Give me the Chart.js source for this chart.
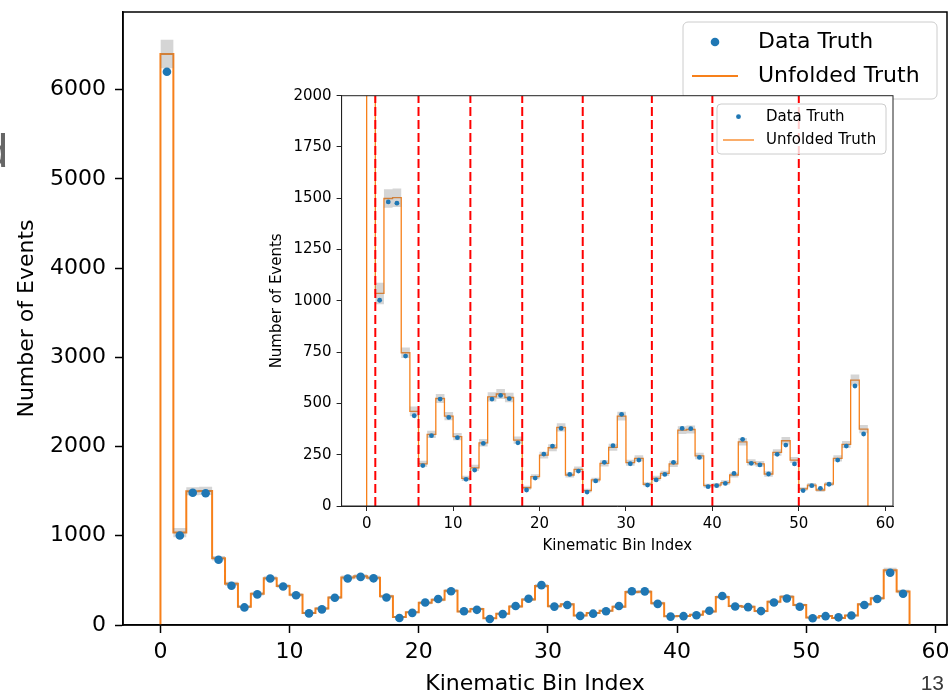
<!DOCTYPE html>
<html>
<head>
<meta charset="utf-8">
<script src="https://cdn.jsdelivr.net/npm/chart.js@4.4.1/dist/chart.umd.min.js"></script>
<style>
    html, body { margin: 0; padding: 0; background: #fff; overflow: hidden; }
    body { width: 949px; height: 694px; position: relative; }
    #mainChart { position: absolute; left: 0; top: 0; }
    #insetChart { position: absolute; left: 250px; top: 60px; }
    .slide-text { position: absolute; font-family: "Liberation Sans", sans-serif; line-height: 1; white-space: nowrap; }
    #sideText { left: -20px; top: 128px; width: 28px; text-align: right; font-size: 46px; color: #666; }
    #pageNum { right: 5px; top: 672px; font-size: 21px; color: #3a3a3a; }
</style>
</head>
<body>
<canvas id="mainChart" width="990" height="720"></canvas>
<canvas id="insetChart" width="680" height="530"></canvas>
<div class="slide-text" id="sideText">d</div>
<div class="slide-text" id="pageNum">13</div>
<script>
// unfolded truth per kinematic bin (58 bins, edges 0..58)
const unfoldedTruth = [
    6400, 1036, 1499, 1503, 747, 461, 205, 349, 524, 438,
    338, 135, 186, 308, 532, 546, 529, 321, 89, 143,
    248, 284, 383, 151, 179, 75, 127, 208, 286, 438,
    211, 232, 106, 135, 159, 205, 370, 373, 244, 99,
    102, 114, 151, 313, 213, 205, 156, 261, 318, 224,
    83, 102, 78, 107, 232, 300, 614, 375
];

// data truth, one point per bin centre
const dataTruth = [
    6200, 1003, 1482, 1476, 731, 440, 197, 343, 521, 432,
    333, 130, 175, 305, 521, 539, 523, 308, 78, 136,
    253, 292, 378, 154, 170, 68, 122, 213, 294, 447,
    206, 224, 102, 127, 154, 213, 378, 377, 237, 94,
    99, 110, 159, 325, 208, 200, 156, 252, 297, 205,
    75, 99, 86, 106, 224, 292, 585, 351
];

// uncertainty on the unfolded result
const unfoldedError = [
    160, 52, 45, 45, 25, 24, 15, 18, 22, 20,
    18, 13, 15, 18, 23, 24, 23, 18, 10, 12,
    16, 17, 20, 12, 14, 9, 11, 15, 17, 21,
    15, 15, 10, 12, 13, 15, 19, 19, 16, 10,
    10, 11, 12, 18, 15, 14, 13, 16, 18, 15,
    9, 10, 9, 10, 15, 17, 27, 20
];

// boundaries between kinematic regions
const regionEdges = [1, 6, 12, 18, 25, 33, 40, 50];

const xTicks = [0, 10, 20, 30, 40, 50, 60];
const mainYTicks = [0, 1000, 2000, 3000, 4000, 5000, 6000];
const insetYTicks = [0, 250, 500, 750, 1000, 1250, 1500, 1750, 2000];

const FONT = "DejaVu Sans";
const nBins = unfoldedTruth.length;

function histStep(values) {
    const pts = [{ x: 0, y: 0 }];
    values.forEach((v, i) => pts.push({ x: i, y: v }));
    pts.push({ x: values.length, y: 0 });
    return pts;
}

function bandEdge(sign) {
    const pts = unfoldedTruth.map((v, i) => ({ x: i, y: v + sign * unfoldedError[i] }));
    pts.push({ x: nBins, y: pts[nBins - 1].y });
    return pts;
}

function binCentres(values) {
    return values.map((v, i) => ({ x: i + 0.5, y: v }));
}

function buildDatasets(s) {
    const sets = [
        {
            label: "Data Truth",
            legendKind: "dot",
            data: binCentres(dataTruth),
            showLine: false,
            pointRadius: s.dot,
            pointBackgroundColor: "#1f77b4",
            pointBorderWidth: 0,
            order: 0
        },
        {
            label: "band-up",
            data: bandEdge(1),
            stepped: "before",
            borderWidth: 0,
            pointRadius: 0,
            fill: "+1",
            backgroundColor: "rgba(128,128,128,0.33)",
            order: 2
        },
        {
            label: "band-down",
            data: bandEdge(-1),
            stepped: "before",
            borderWidth: 0,
            pointRadius: 0,
            fill: false,
            order: 2
        },
        {
            label: "Unfolded Truth",
            legendKind: "line",
            data: histStep(unfoldedTruth),
            stepped: "before",
            borderColor: "#f7801a",
            borderWidth: s.line,
            pointRadius: 0,
            fill: false,
            order: 3
        }
    ];
    if (s.regions) {
        regionEdges.forEach(edge => {
            sets.push({
                label: "region",
                data: [{ x: edge, y: 0 }, { x: edge, y: s.yMax }],
                borderColor: "#ff0000",
                borderWidth: 2,
                borderDash: [9, 4],
                pointRadius: 0,
                fill: false,
                order: 1
            });
        });
    }
    return sets;
}

const framePlugin = {
    id: "frame",
    beforeDraw(chart, args, opts) {
        if (!opts.background) return;
        const a = chart.chartArea;
        chart.ctx.save();
        chart.ctx.fillStyle = opts.background;
        chart.ctx.fillRect(a.left, a.top, a.right - a.left, a.bottom - a.top);
        chart.ctx.restore();
    },
    afterDraw(chart, args, opts) {
        const a = chart.chartArea;
        const ctx = chart.ctx;
        ctx.save();
        ctx.strokeStyle = opts.color;
        ctx.lineWidth = opts.width;
        ctx.strokeRect(a.left, a.top, a.right - a.left, a.bottom - a.top);
        ctx.restore();
    }
};

const boxLegend = {
    id: "boxLegend",
    afterDraw(chart, args, o) {
        const ctx = chart.ctx;
        const items = chart.data.datasets.filter(d => d.legendKind);
        ctx.save();
        ctx.beginPath();
        ctx.roundRect(o.x, o.y, o.w, o.h, o.radius);
        ctx.fillStyle = "rgba(255,255,255,0.8)";
        ctx.fill();
        ctx.strokeStyle = "#cccccc";
        ctx.lineWidth = 1;
        ctx.stroke();
        ctx.font = o.fontSize + "px '" + FONT + "'";
        ctx.textBaseline = "middle";
        items.forEach((d, k) => {
            const y = o.y + o.rowTop + k * o.rowGap;
            if (d.legendKind === "dot") {
                ctx.beginPath();
                ctx.arc(o.handleX + o.handleW / 2, y, d.pointRadius, 0, Math.PI * 2);
                ctx.fillStyle = d.pointBackgroundColor;
                ctx.fill();
            } else {
                ctx.beginPath();
                ctx.moveTo(o.handleX, y);
                ctx.lineTo(o.handleX + o.handleW, y);
                ctx.strokeStyle = d.borderColor;
                ctx.lineWidth = d.borderWidth;
                ctx.stroke();
            }
            ctx.fillStyle = "#000";
            ctx.fillText(d.label, o.textX, y);
        });
        ctx.restore();
    }
};

function axisOptions(s, isX) {
    const ticksList = isX ? xTicks : s.yTicks;
    return {
        type: "linear",
        min: isX ? -2.9 : 0,
        max: isX ? 60.9 : s.yMax,
        afterBuildTicks: scale => { scale.ticks = ticksList.map(v => ({ value: v })); },
        afterFit: scale => {
            // the frame is placed by hand, so drop the label overhang padding
            scale.paddingTop = 0;
            scale.paddingBottom = 0;
            scale.paddingLeft = 0;
            scale.paddingRight = 0;
            if (isX) scale.height = s.xAxisHeight; else scale.width = s.yAxisWidth;
        },
        ticks: {
            font: { family: FONT, size: s.font },
            color: "#000",
            padding: isX ? s.xPad : s.yPad,
            maxRotation: 0,
            autoSkip: false,
            callback: v => String(v)
        },
        grid: {
            display: true,
            drawOnChartArea: false,
            drawTicks: true,
            tickLength: s.tick,
            tickWidth: s.frame,
            tickColor: s.frameColor
        },
        border: { display: true, color: s.frameColor, width: s.frame },
        title: {
            display: true,
            text: isX ? "Kinematic Bin Index" : "Number of Events",
            font: { family: FONT, size: s.font },
            color: "#000",
            padding: isX ? { top: 0, bottom: s.xTitlePad } : { top: s.yTitlePad, bottom: 0 }
        }
    };
}

function makeChart(canvasId, s) {
    return new Chart(document.getElementById(canvasId), {
        type: "line",
        data: { datasets: buildDatasets(s) },
        options: {
            responsive: false,
            animation: false,
            events: [],
            layout: { padding: s.padding },
            scales: { x: axisOptions(s, true), y: axisOptions(s, false) },
            plugins: {
                legend: { display: false },
                tooltip: { enabled: false },
                filler: { drawTime: "beforeDatasetDraw" },
                frame: { color: s.frameColor, width: s.frame, background: s.background },
                boxLegend: s.legend
            }
        },
        plugins: [framePlugin, boxLegend]
    });
}

// main plot, full range
makeChart("mainChart", {
    yMax: 6870, yTicks: mainYTicks,
    dot: 4.3, line: 2, regions: false,
    font: 22, tick: 8, frame: 1.5, frameColor: "#000",
    xPad: 6, yPad: 9,
    xAxisHeight: 95, yAxisWidth: 123,
    xTitlePad: 22.8, yTitlePad: 13.8,
    padding: { left: 0, top: 12, right: 43, bottom: 0 },
    background: null,
    legend: {
        x: 683, y: 22, w: 254, h: 77, radius: 5,
        fontSize: 22, rowTop: 20, rowGap: 34,
        handleX: 692, handleW: 46, textX: 758
    }
});

// zoomed inset with kinematic region boundaries
makeChart("insetChart", {
    yMax: 2000, yTicks: insetYTicks,
    dot: 2.4, line: 1.3, regions: true,
    font: 15, tick: 5, frame: 1, frameColor: "#222",
    xPad: 4, yPad: 5,
    xAxisHeight: 84, yAxisWidth: 91.6,
    xTitlePad: 35, yTitlePad: 18,
    padding: { left: 0, top: 35.7, right: 37, bottom: 0 },
    background: "#ffffff",
    legend: {
        x: 467, y: 44, w: 169, h: 50, radius: 4,
        fontSize: 15, rowTop: 12.7, rowGap: 23.3,
        handleX: 473, handleW: 31, textX: 516
    }
});
</script>
</body>
</html>
